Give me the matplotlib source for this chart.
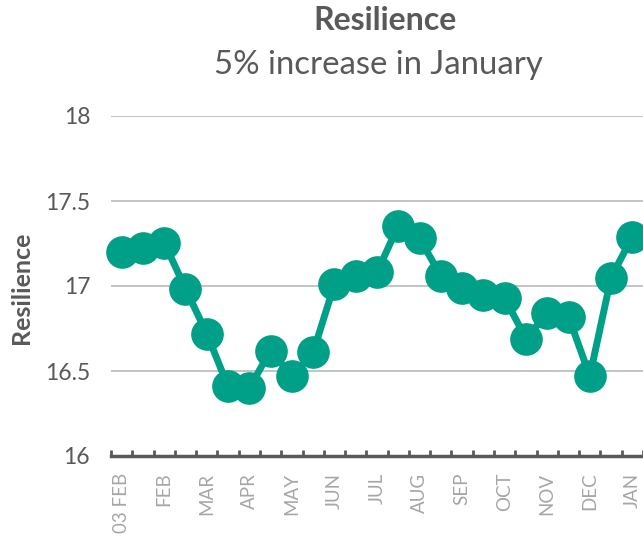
import matplotlib
matplotlib.use("Agg")
import matplotlib.pyplot as plt
import numpy as np

plt.rcParams['font.family'] = ['Lato', 'DejaVu Sans']

values = [17.20, 17.225, 17.255, 16.985, 16.72, 16.41, 16.40, 16.62, 16.47, 16.61,
          17.01, 17.06, 17.08, 17.355, 17.28, 17.06, 16.99, 16.95, 16.93, 16.69,
          16.84, 16.82, 16.47, 17.05, 17.29]
tick_labels = ["03 FEB", "FEB", "MAR", "APR", "MAY", "JUN", "JUL", "AUG", "SEP",
               "OCT", "NOV", "DEC", "JAN"]
y_ticks = [16, 16.5, 17, 17.5, 18]
y_tick_labels = ["16", "16.5", "17", "17.5", "18"]
title = "Resilience"
subtitle = "5% increase in January"
ylabel = "Resilience"

color = "#00A088"
W, H = 643, 541
fig = plt.figure(figsize=(W / 100, H / 100), dpi=100)
ax = fig.add_axes([111 / W, 1 - 456 / H, (643 - 111) / W, (456 - 116) / H])

n = len(values)
x = np.arange(n)
ax.plot(x, values, color=color, lw=5, marker='o', ms=22.5, mec=color, mfc=color,
        solid_joinstyle='round', clip_on=False, zorder=3)

ax.set_xlim(-0.5, n - 0.5)
ax.set_ylim(16, 18)
ax.set_yticks(y_ticks)
ax.set_yticklabels(y_tick_labels, fontsize=16.5, color="#595959")
ax.grid(axis='y', color="#BFBFBF", lw=1.3)
ax.set_axisbelow(True)
ax.tick_params(axis='y', length=0, pad=15)

# x ticks between categories, labels every second category
ax.set_xticks(np.arange(n + 1) - 0.5)
ax.set_xticklabels([])
ax.set_xticks(np.arange(0, n, 2), minor=True)
ax.set_xticklabels(tick_labels, minor=True, rotation=90, fontsize=13.5, color="#A6A6A6")
ax.tick_params(axis='x', which='major', direction='in', length=4, width=2, color="#595959")
ax.tick_params(axis='x', which='minor', length=0, pad=12)

for s in ['top', 'right', 'left']:
    ax.spines[s].set_visible(False)
ax.spines['bottom'].set_color("#595959")
ax.spines['bottom'].set_linewidth(2.5)

fig.text(385 / W, 1 - 20 / H, title, ha='center', va='center', fontsize=23,
         fontweight='bold', color="#595959")
fig.text(378 / W, 1 - 65 / H, subtitle, ha='center', va='center', fontsize=23.7,
         color="#595959")
fig.text(22 / W, 1 - 288 / H, ylabel, ha='center', va='center', rotation=90,
         fontsize=18, fontweight='bold', color="#595959")

fig.savefig("out.png", dpi=100)
